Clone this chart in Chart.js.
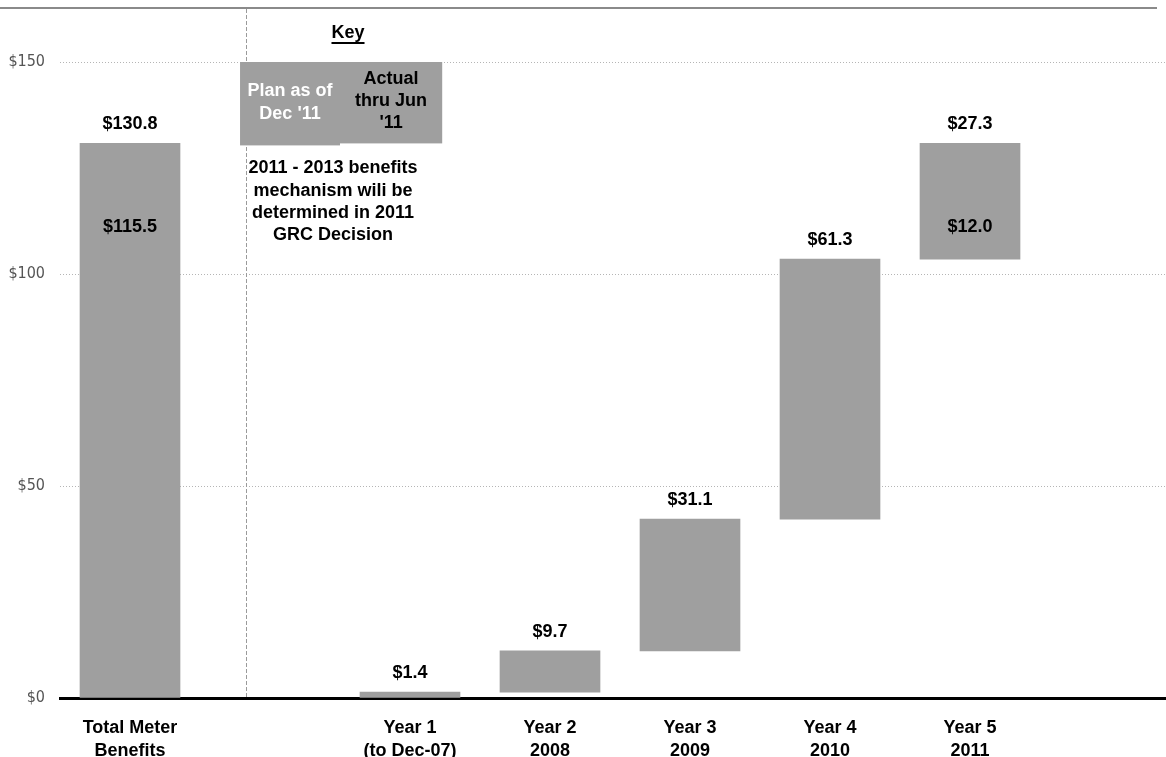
<!DOCTYPE html>
<html>
<head>
<meta charset="utf-8">
<title>Meter benefits</title>
<script src="https://cdn.jsdelivr.net/npm/chart.js@4.4.1/dist/chart.umd.min.js"></script>
<style>
  html, body { margin: 0; padding: 0; background: #fff; overflow: hidden; }
  #wrap { width: 1166px; height: 757px; }
</style>
</head>
<body>
<div id="wrap"><canvas id="myChart" width="1166" height="757"></canvas></div>
<script>
// categories on the x axis (index = position, blank slot holds the key)
const categoryLines = [
    ['Total Meter', 'Benefits'],
    [],
    ['Year 1', '(to Dec-07)'],
    ['Year 2', '2008'],
    ['Year 3', '2009'],
    ['Year 4', '2010'],
    ['Year 5', '2011']
];
// $ millions
const totalPlan = 130.8;
const totalActual = 115.5;
const yearIncrements = [1.4, 9.7, 31.1, 61.3, 27.3];
const year5Actual = 12.0;
const yTicks = [0, 50, 100, 150];

const BAR_GREY = '#9f9f9f';
const FONT = "'Liberation Sans', Arial, sans-serif";
const NARROW = "'Liberation Sans Narrow', 'DejaVu Sans Condensed', 'Liberation Sans', sans-serif";

// waterfall: each year floats on top of the running total
var bars = [{ x: 0, y: [0, totalPlan], label: totalPlan }];
var running = 0;
for (var i = 0; i < yearIncrements.length; i++) {
    bars.push({ x: i + 2, y: [running, running + yearIncrements[i]], label: yearIncrements[i] });
    running += yearIncrements[i];
}
// actual-thru-Jun values printed inside the bars
const insideLabels = [
    { x: 0, label: totalActual },
    { x: 6, label: year5Actual }
];

function money(v) { return '$' + v.toFixed(1); }

const decorPlugin = {
    id: 'decor',
    beforeDatasetsDraw(chart) {
        const ctx = chart.ctx;
        const xs = chart.scales.x, ys = chart.scales.y;
        ctx.save();
        // rule along the top of the page
        ctx.strokeStyle = '#8a8a8a';
        ctx.lineWidth = 2;
        ctx.beginPath();
        ctx.moveTo(0, 8);
        ctx.lineTo(1157, 8);
        ctx.stroke();
        // dashed divider between total and the years
        const divX = Math.round(xs.getPixelForValue(0.83)) + 0.5;
        ctx.strokeStyle = '#9a9a9a';
        ctx.lineWidth = 1;
        ctx.setLineDash([4, 2]);
        ctx.beginPath();
        ctx.moveTo(divX, 9);
        ctx.lineTo(divX, ys.getPixelForValue(0));
        ctx.stroke();
        ctx.setLineDash([]);
        ctx.restore();
    },
    afterDatasetsDraw(chart) {
        const ctx = chart.ctx;
        const xs = chart.scales.x, ys = chart.scales.y;
        const meta = chart.getDatasetMeta(0);
        ctx.save();
        ctx.textAlign = 'center';
        ctx.textBaseline = 'middle';
        ctx.fillStyle = '#000';
        ctx.font = 'bold 18px ' + FONT;
        // plan values above each bar
        meta.data.forEach(function (bar, idx) {
            ctx.fillText(money(bars[idx].label), bar.x, bar.y - 19);
        });
        // actual values inside
        insideLabels.forEach(function (d) {
            ctx.fillText(money(d.label), xs.getPixelForValue(d.x), ys.getPixelForValue(111.1));
        });

        // key
        const keyTop = ys.getPixelForValue(150);
        const keyBottom = ys.getPixelForValue(totalPlan);
        const kLeft = xs.getPixelForValue(0.786);
        const kMid = xs.getPixelForValue(1.5);
        const kRight = xs.getPixelForValue(2.23);
        ctx.fillStyle = BAR_GREY;
        ctx.fillRect(kLeft, keyTop, kMid - kLeft, keyBottom - keyTop + 2);
        ctx.fillRect(kMid, keyTop, kRight - kMid, keyBottom - keyTop);

        ctx.fillStyle = '#000';
        ctx.fillText('Key', 348, 33);
        const kw = ctx.measureText('Key').width;
        ctx.fillRect(348 - kw / 2, 42, kw, 2);

        ctx.fillStyle = '#fff';
        ctx.fillText('Plan as of', (kLeft + kMid) / 2, keyTop + 29);
        ctx.fillText("Dec '11", (kLeft + kMid) / 2, keyTop + 52);
        ctx.fillStyle = '#000';
        ctx.fillText('Actual', (kMid + kRight) / 2, keyTop + 17);
        ctx.fillText('thru Jun', (kMid + kRight) / 2, keyTop + 39);
        ctx.fillText("'11", (kMid + kRight) / 2, keyTop + 61);

        // note under the key
        const note = ['2011 - 2013 benefits', 'mechanism wili be', 'determined in 2011', 'GRC Decision'];
        note.forEach(function (line, n) {
            ctx.fillText(line, 333, keyBottom + 25 + n * 22.3);
        });
        ctx.restore();
    }
};

var ctx = document.getElementById('myChart').getContext('2d');
var myChart = new Chart(ctx, {
    type: 'bar',
    data: {
        datasets: [{
            data: bars,
            backgroundColor: BAR_GREY,
            borderWidth: 0,
            barThickness: 100
        }]
    },
    options: {
        responsive: false,
        animation: false,
        layout: { padding: { top: 62, left: 0, right: 0, bottom: 0 } },
        plugins: { legend: { display: false }, tooltip: { enabled: false } },
        scales: {
            x: {
                type: 'linear',
                offset: false,
                min: -0.5,
                max: 7.4,
                grid: { display: false, offset: false },
                border: { display: true, color: '#000', width: 3 },
                afterBuildTicks: function (scale) {
                    var t = [];
                    categoryLines.forEach(function (c, i) { if (c.length) t.push({ value: i }); });
                    scale.ticks = t;
                },
                afterFit: function (scale) { scale.height = 59; },
                ticks: {
                    autoSkip: false,
                    maxRotation: 0,
                    padding: 11,
                    color: '#000',
                    font: { family: FONT, size: 18, weight: 'bold', lineHeight: 1.27 },
                    callback: function (v) { return categoryLines[v] || ''; }
                }
            },
            y: {
                min: 0,
                max: 150,
                afterBuildTicks: function (scale) {
                    scale.ticks = yTicks.map(function (v) { return { value: v }; });
                },
                afterFit: function (scale) { scale.width = 60; },
                grid: {
                    drawTicks: false,
                    lineWidth: 1,
                    color: function (c) { return c.tick && c.tick.value === 0 ? 'rgba(0,0,0,0)' : '#b5b5b5'; }
                },
                border: { display: false, dash: [1, 2] },
                ticks: {
                    padding: 15,
                    color: '#555',
                    font: { family: NARROW, size: 16 },
                    callback: function (v) { return '$' + v; }
                }
            }
        }
    },
    plugins: [decorPlugin]
});
</script>
</body>
</html>
